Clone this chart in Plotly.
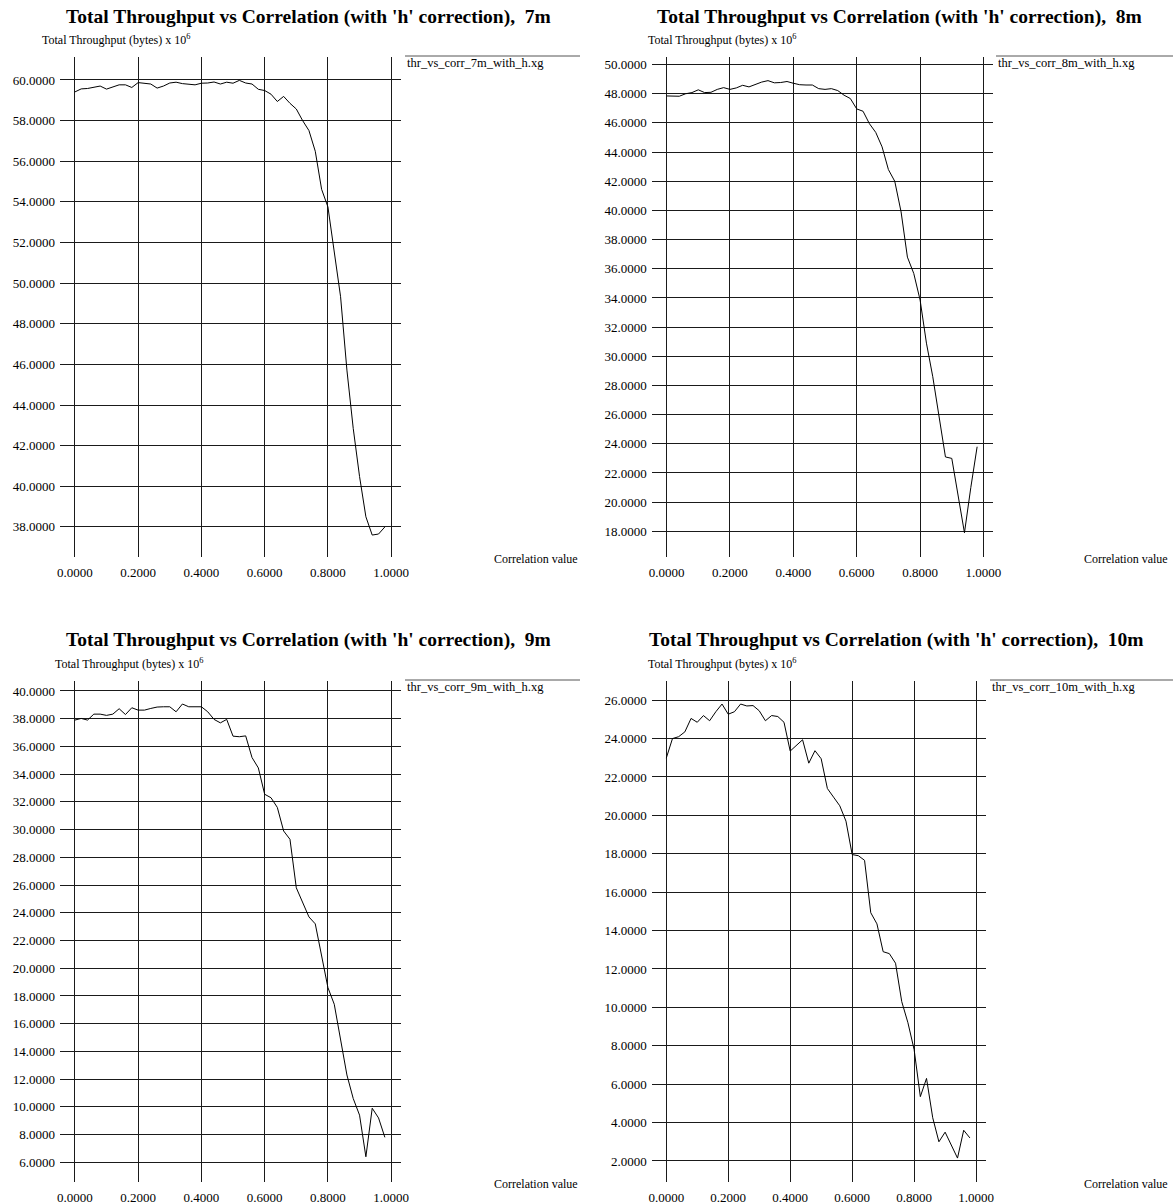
import plotly.graph_objects as go

# ---------------- data ----------------
correlation = [0.00, 0.02, 0.04, 0.06, 0.08, 0.10, 0.12, 0.14, 0.16, 0.18,
               0.20, 0.22, 0.24, 0.26, 0.28, 0.30, 0.32, 0.34, 0.36, 0.38,
               0.40, 0.42, 0.44, 0.46, 0.48, 0.50, 0.52, 0.54, 0.56, 0.58,
               0.60, 0.62, 0.64, 0.66, 0.68, 0.70, 0.72, 0.74, 0.76, 0.78,
               0.80, 0.82, 0.84, 0.86, 0.88, 0.90, 0.92, 0.94, 0.96, 0.98]

tp_7m = [59.41, 59.56, 59.58, 59.63, 59.70, 59.55, 59.66, 59.76, 59.76, 59.63,
         59.87, 59.82, 59.80, 59.60, 59.70, 59.85, 59.89, 59.82, 59.80, 59.76,
         59.84, 59.85, 59.90, 59.80, 59.89, 59.84, 59.98, 59.85, 59.80, 59.54,
         59.48, 59.30, 58.94, 59.19, 58.85, 58.57, 58.00, 57.51, 56.49, 54.62,
         53.75, 51.55, 49.33, 45.72, 42.85, 40.48, 38.50, 37.60, 37.65, 38.00]

tp_8m = [47.85, 47.85, 47.83, 48.00, 48.08, 48.27, 48.08, 48.10, 48.30, 48.42,
         48.30, 48.40, 48.58, 48.47, 48.65, 48.80, 48.90, 48.75, 48.77, 48.84,
         48.72, 48.62, 48.60, 48.60, 48.35, 48.30, 48.35, 48.22, 47.90, 47.67,
         46.96, 46.80, 45.95, 45.35, 44.36, 42.80, 42.00, 39.90, 36.80, 35.68,
         33.86, 30.90, 28.60, 26.00, 23.10, 23.00, 20.40, 17.90, 21.00, 23.80]

tp_9m = [37.90, 38.02, 37.90, 38.33, 38.33, 38.24, 38.33, 38.72, 38.30, 38.79,
         38.62, 38.62, 38.74, 38.84, 38.86, 38.86, 38.50, 39.06, 38.86, 38.86,
         38.86, 38.50, 37.95, 37.70, 37.95, 36.74, 36.70, 36.76, 35.20, 34.45,
         32.55, 32.30, 31.60, 29.90, 29.30, 25.80, 24.70, 23.70, 23.20, 20.90,
         18.60, 17.40, 14.80, 12.30, 10.60, 9.40, 6.40, 9.90, 9.20, 7.80]

tp_10m = [22.98, 24.00, 24.10, 24.35, 25.05, 24.85, 25.20, 24.93, 25.40, 25.80,
          25.27, 25.40, 25.80, 25.70, 25.72, 25.45, 24.93, 25.20, 25.15, 24.85,
          23.35, 23.65, 23.94, 22.72, 23.37, 22.95, 21.40, 20.95, 20.50, 19.70,
          17.96, 17.90, 17.66, 14.93, 14.35, 12.90, 12.80, 12.30, 10.30, 9.20,
          7.80, 5.35, 6.30, 4.25, 3.00, 3.50, 2.85, 2.15, 3.60, 3.20]

distances = ["7m", "8m", "9m", "10m"]
series = [tp_7m, tp_8m, tp_9m, tp_10m]
legend_names = ["thr_vs_corr_7m_with_h.xg", "thr_vs_corr_8m_with_h.xg",
                "thr_vs_corr_9m_with_h.xg", "thr_vs_corr_10m_with_h.xg"]
y_ticks = [list(range(38, 61, 2)), list(range(18, 51, 2)),
           list(range(6, 41, 2)), list(range(2, 27, 2))]
y_ranges = [[36.52, 61.13], [16.24, 50.52], [4.6, 40.72], [0.92, 27.0]]
x_ticks = [0.0, 0.2, 0.4, 0.6, 0.8, 1.0]

# ---------------- layout geometry (pixels) ----------------
W, H = 1173, 1204
# plot boxes: (left, right, top, bottom) in px
boxes = [(60, 401, 57, 557), (651.7, 993.3, 57, 557),
         (60, 401, 681, 1181.7), (651.7, 985.7, 681, 1181.7)]
title_pos = [(308, 17), (899, 17), (308, 640), (896, 640)]
ylab_pos = [(40, 40), (646, 40), (53, 663), (646, 663)]
legend_pos = [(405, 580), (996, 1173), (405, 580), (990, 1173)]
xlab_right = [580, 1170, 580, 1170]

SERIF = "Liberation Serif, Times New Roman, serif"

fig = go.Figure()
annotations = []
shapes = []
for k in range(4):
    xa = "x" if k == 0 else f"x{k+1}"
    ya = "y" if k == 0 else f"y{k+1}"
    fig.add_trace(go.Scatter(x=correlation, y=series[k], mode="lines",
                             line=dict(color="black", width=1),
                             xaxis=xa, yaxis=ya, showlegend=False,
                             name=legend_names[k]))
    l, r, t, b = boxes[k]
    axis_common = dict(showgrid=True, gridcolor="#1a1a1a", gridwidth=1,
                       zeroline=False, showline=False, ticks="",
                       automargin=False,
                       tickfont=dict(family=SERIF, size=13, color="black"),
                       tickformat=".4f")
    fig.layout[("xaxis" if k == 0 else f"xaxis{k+1}")] = dict(
        domain=[l / W, r / W], anchor=ya, range=[-0.047, 1.031],
        tickvals=x_ticks, ticklabelstandoff=6, **axis_common)
    fig.layout[("yaxis" if k == 0 else f"yaxis{k+1}")] = dict(
        domain=[1 - b / H, 1 - t / H], anchor=xa, range=y_ranges[k],
        tickvals=y_ticks[k], ticklabelstandoff=4, **axis_common)

    tx, ty = title_pos[k]
    annotations.append(dict(
        text=f"<b>Total Throughput vs Correlation (with 'h' correction),\u00a0 {distances[k]}</b>",
        x=tx / W, y=1 - ty / H, xref="paper", yref="paper",
        xanchor="center", yanchor="middle", showarrow=False,
        font=dict(family=SERIF, size=19.5, color="black")))
    lx, ly = ylab_pos[k]
    annotations.append(dict(
        text="Total Throughput (bytes) x 10<sup>6</sup>",
        x=lx / W, y=1 - ly / H, xref="paper", yref="paper",
        xanchor="left", yanchor="middle", showarrow=False,
        font=dict(family=SERIF, size=12, color="black")))
    g0, g1 = legend_pos[k]
    annotations.append(dict(
        text=legend_names[k], x=g0 / W, y=1 - (t + 6) / H,
        xref="paper", yref="paper", xanchor="left", yanchor="middle",
        showarrow=False, font=dict(family=SERIF, size=12.5, color="black")))
    shapes.append(dict(type="line", xref="paper", yref="paper",
                       x0=g0 / W, x1=g1 / W, y0=1 - (t - 1) / H, y1=1 - (t - 1) / H,
                       line=dict(color="#555555", width=1)))
    annotations.append(dict(
        text="Correlation value", x=xlab_right[k] / W, y=1 - (b + 2) / H,
        xref="paper", yref="paper", xanchor="right", yanchor="middle",
        showarrow=False, font=dict(family=SERIF, size=12, color="black")))

fig.update_layout(width=W, height=H, margin=dict(l=0, r=0, t=0, b=0),
                  paper_bgcolor="white", plot_bgcolor="white",
                  annotations=annotations, shapes=shapes)

fig.write_html("out.html", config={"displayModeBar": False},
               post_script="document.body.style.margin='0px';"
                           "document.body.style.overflow='hidden';")
